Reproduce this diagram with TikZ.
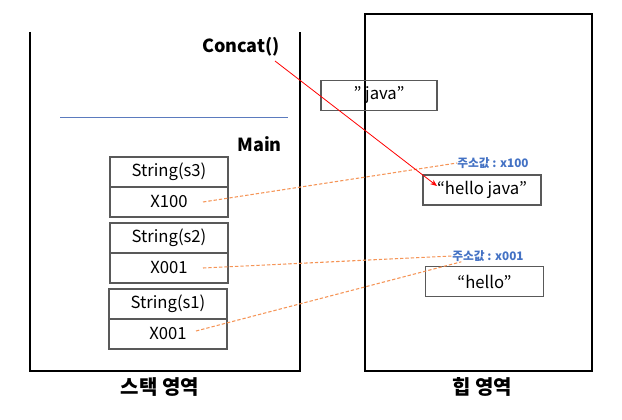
\documentclass[tikz,border=0pt]{standalone}
\usepackage{fontspec}
\setmainfont{Noto Sans CJK KR}
\usetikzlibrary{arrows.meta}
\definecolor{boxgray}{HTML}{595959}
\definecolor{addrblue}{HTML}{4472C4}
\definecolor{dashor}{HTML}{F4A460}
\definecolor{sepblue}{HTML}{5B7BBE}
\tikzset{
  cell/.style={draw=boxgray, line width=0.9pt, minimum width=88.5pt, minimum height=22.5pt, inner sep=0pt, font=\fontsize{12.5pt}{14pt}\selectfont},
  region/.style={draw=black, line width=0.8pt},
  bigbold/.style={font=\fontsize{13.5pt}{15pt}\selectfont\bfseries},
  lblbold/.style={font=\fontsize{15pt}{17pt}\selectfont\bfseries},
  addr/.style={font=\fontsize{8.8pt}{10pt}\selectfont\bfseries, text=addrblue, inner sep=0pt},
  ref/.style={draw=dashor!90!red, line width=0.8pt, dash pattern=on 2.5pt off 1.5pt},
}
\begin{document}
\begin{tikzpicture}[x=0.75pt,y=-0.75pt]
\useasboundingbox (0,0) rectangle (622,420);
% stack region (open top)
\draw[region] (30,32) -- (30,371) -- (300,371) -- (300,32);
% heap region
\draw[region] (365,14) rectangle (592,371);
\node[lblbold] (stk) at (160,387) {스택 영역};
\node[lblbold] (heap) at (482,387) {힙 영역};
% frames
\node[bigbold, anchor=east, inner sep=0pt] (concat) at (280,47) {Concat()};
\draw[sepblue, line width=0.6pt] (60,117) -- (288,117);
\node[bigbold, anchor=east, inner sep=0pt] (main) at (282,144) {Main};
% stack cells
\node[cell] (s3) at (169,172) {String(s3)};
\node[cell] (v3) at (169,202) {X100};
\node[cell] (s2) at (169,238) {String(s2)};
\node[cell] (v2) at (169,268) {X001};
\node[cell] (s1) at (168,304) {String(s1)};
\node[cell] (v1) at (168,334) {X001};
% heap objects
\node[cell, minimum width=87pt, minimum height=23pt] (java) at (379,95.5) {\char"201D\ java\char"201D};
\node[cell, minimum width=88.5pt] (hj) at (482,190) {\char"201C hello java\char"201D};
\node[cell, minimum width=88pt, minimum height=23pt] (hello) at (484.5,281.5) {\char"201C hello\char"201D};
% address labels
\node[addr] (a100) at (493,163) {주소값 : x100};
\node[addr] (a001) at (488,256) {주소값 : x001};
% references
\coordinate (v3e) at (203,202);
\coordinate (v2e) at (203,268);
\coordinate (v1e) at (196,331);
\draw[ref] (v3e) -- (a100.west);
\draw[ref] (v2e) -- (a001.west);
\draw[ref] (v1e) -- ([xshift=-20pt]a001.south);
% concat arrow
\coordinate (cs) at (275,61);
\coordinate (ce) at (437,186);
\draw[red, line width=0.6pt, -{Stealth[length=5pt,width=4pt]}] (cs) -- (ce);
\end{tikzpicture}
\end{document}
